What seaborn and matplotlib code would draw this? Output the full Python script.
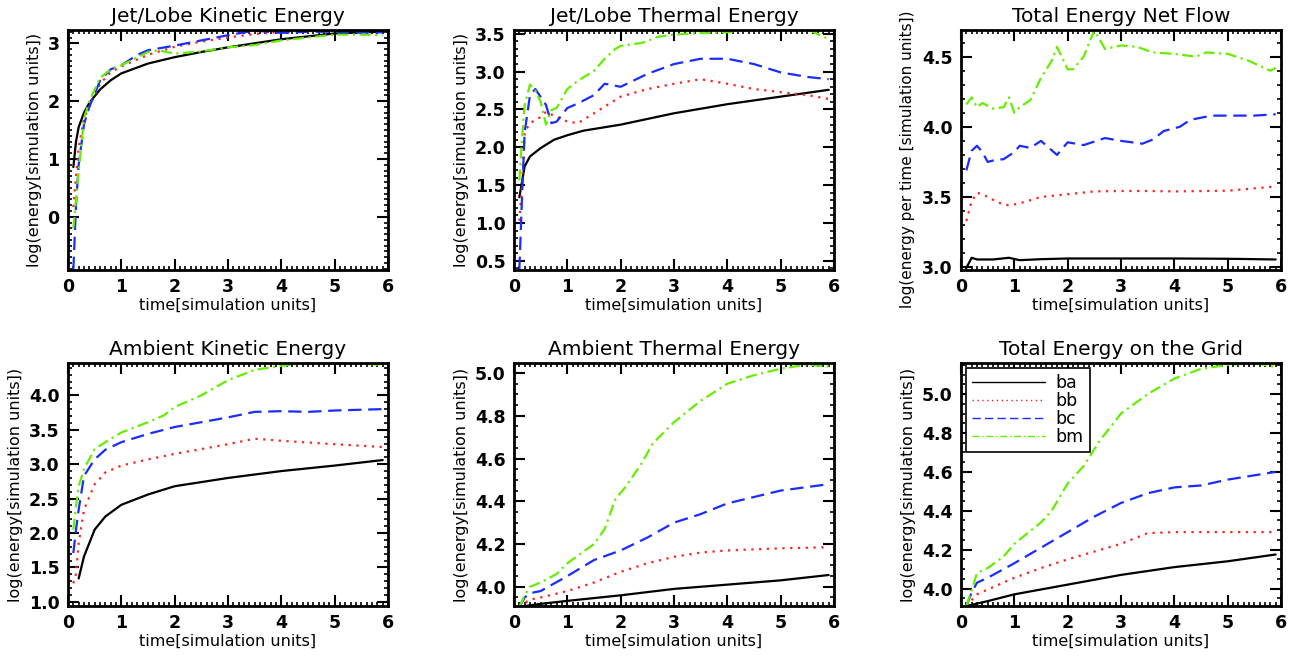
import numpy as np
import pandas as pd
import matplotlib
matplotlib.use("Agg")
from matplotlib import pyplot as plt
from matplotlib.ticker import MultipleLocator, FormatStrFormatter
import seaborn as sns

runs = ['ba', 'bb', 'bc', 'bm']
colors = {'ba': 'black', 'bb': '#ff2020', 'bc': '#1a2cff', 'bm': '#66ee00'}
dashes = {'ba': '', 'bb': (1, 2.5), 'bc': (6, 3), 'bm': (5, 2, 1, 2)}

# Jet/Lobe Kinetic Energy
jke_t_ba = [0.1, 0.15, 0.2, 0.3, 0.4, 0.6, 0.8, 1.0, 1.5, 2.0, 2.5, 3.0, 3.5, 4.0, 4.5, 5.0, 5.5, 5.9]
jke_ba = [0.86, 1.3, 1.55, 1.8, 1.97, 2.2, 2.36, 2.48, 2.65, 2.76, 2.85, 2.93, 3.0, 3.07, 3.12, 3.17, 3.19, 3.2]
jke_t_bb = [0.1, 0.15, 0.2, 0.3, 0.4, 0.6, 0.8, 1.0, 1.5, 2.0, 2.5, 3.0, 3.5, 4.0, 4.5, 5.0, 5.5, 5.9]
jke_bb = [0.17, 0.7, 1.2, 1.7, 1.9, 2.3, 2.5, 2.6, 2.8, 2.94, 3.03, 3.1, 3.16, 3.2, 3.21, 3.22, 3.22, 3.22]
jke_t_bc = [0.1, 0.15, 0.2, 0.3, 0.4, 0.6, 0.8, 1.0, 1.3, 1.5, 2.0, 2.5, 3.0, 3.5, 4.0, 4.5, 5.0, 5.5, 5.9]
jke_bc = [-0.92, 0.2, 0.9, 1.6, 1.9, 2.35, 2.55, 2.62, 2.8, 2.88, 2.96, 3.05, 3.14, 3.22, 3.18, 3.2, 3.2, 3.19, 3.19]
jke_t_bm = [0.1, 0.15, 0.2, 0.3, 0.4, 0.6, 0.8, 1.0, 1.5, 1.7, 2.0, 2.5, 3.0, 3.5, 4.0, 4.5, 5.0, 5.5, 5.9]
jke_bm = [-0.2, 0.3, 0.8, 1.7, 2.0, 2.4, 2.55, 2.62, 2.85, 2.88, 2.82, 2.86, 2.93, 2.97, 3.05, 3.1, 3.15, 3.15, 3.14]

# Jet/Lobe Thermal Energy
jte_t_ba = [0.1, 0.2, 0.3, 0.5, 0.75, 1.0, 1.3, 2.0, 3.0, 4.0, 5.0, 5.9]
jte_ba = [1.34, 1.75, 1.88, 1.99, 2.1, 2.16, 2.22, 2.3, 2.45, 2.57, 2.67, 2.76]
jte_t_bb = [0.1, 0.15, 0.2, 0.3, 0.5, 0.6, 0.8, 1.0, 1.2, 1.5, 2.0, 2.5, 3.0, 3.5, 4.0, 4.5, 5.0, 5.5, 5.9]
jte_bb = [1.03, 1.5, 2.2, 2.32, 2.4, 2.47, 2.4, 2.34, 2.32, 2.45, 2.67, 2.77, 2.84, 2.9, 2.84, 2.77, 2.73, 2.69, 2.64]
jte_t_bc = [0.1, 0.15, 0.2, 0.3, 0.4, 0.6, 0.7, 0.8, 1.0, 1.2, 1.5, 1.7, 2.0, 2.5, 3.0, 3.5, 4.0, 4.5, 5.0, 5.5, 5.9]
jte_bc = [0.38, 1.34, 2.2, 2.69, 2.77, 2.56, 2.32, 2.34, 2.52, 2.58, 2.69, 2.84, 2.8, 2.97, 3.1, 3.17, 3.17, 3.1, 2.99, 2.93, 2.9]
jte_t_bm = [0.1, 0.15, 0.2, 0.3, 0.4, 0.5, 0.6, 0.7, 0.8, 1.0, 1.2, 1.5, 1.7, 1.9, 2.0, 2.4, 2.7, 3.0, 3.5, 4.0, 4.5, 5.0, 5.5, 5.9]
jte_bm = [1.56, 2.12, 2.56, 2.83, 2.75, 2.6, 2.3, 2.49, 2.52, 2.77, 2.88, 3.01, 3.17, 3.3, 3.34, 3.38, 3.46, 3.49, 3.51, 3.52, 3.56, 3.55, 3.56, 3.43]

# Total Energy Net Flow
tnf_t_ba = [0.1, 0.2, 0.3, 0.6, 0.9, 1.1, 1.5, 2.0, 3.0, 4.0, 5.0, 5.9]
tnf_ba = [2.995, 3.067, 3.055, 3.055, 3.067, 3.05, 3.057, 3.062, 3.062, 3.062, 3.06, 3.055]
tnf_t_bb = [0.1, 0.2, 0.3, 0.4, 0.5, 0.7, 0.9, 1.1, 1.5, 2.0, 2.5, 3.0, 3.5, 4.0, 5.0, 5.9]
tnf_bb = [3.33, 3.47, 3.53, 3.52, 3.5, 3.46, 3.44, 3.455, 3.5, 3.52, 3.54, 3.543, 3.543, 3.54, 3.545, 3.575]
tnf_t_bc = [0.1, 0.2, 0.3, 0.4, 0.5, 0.6, 0.8, 1.0, 1.1, 1.3, 1.5, 1.8, 2.0, 2.3, 2.7, 3.0, 3.2, 3.4, 3.6, 3.8, 4.1, 4.3, 4.7, 5.0, 5.5, 5.9]
tnf_bc = [3.69, 3.83, 3.865, 3.82, 3.75, 3.76, 3.77, 3.82, 3.865, 3.85, 3.9, 3.8, 3.89, 3.87, 3.92, 3.9, 3.89, 3.88, 3.91, 3.97, 4.0, 4.05, 4.08, 4.08, 4.08, 4.09]
tnf_t_bm = [0.1, 0.2, 0.3, 0.4, 0.6, 0.8, 0.9, 1.0, 1.1, 1.3, 1.5, 1.7, 1.8, 2.0, 2.1, 2.3, 2.5, 2.7, 3.0, 3.3, 3.6, 4.0, 4.4, 4.6, 5.0, 5.4, 5.8, 5.9]
tnf_bm = [4.16, 4.21, 4.14, 4.17, 4.13, 4.14, 4.21, 4.1, 4.14, 4.19, 4.35, 4.47, 4.57, 4.41, 4.41, 4.5, 4.69, 4.555, 4.58, 4.57, 4.53, 4.52, 4.5, 4.53, 4.52, 4.47, 4.4, 4.42]

# Ambient Kinetic Energy
ake_t_ba = [0.2, 0.3, 0.5, 0.7, 1.0, 1.5, 2.0, 3.0, 4.0, 5.0, 5.9]
ake_ba = [1.34, 1.66, 2.05, 2.24, 2.41, 2.56, 2.68, 2.8, 2.9, 2.98, 3.06]
ake_t_bb = [0.1, 0.15, 0.2, 0.3, 0.5, 0.7, 1.0, 1.5, 2.0, 3.0, 3.5, 4.0, 5.0, 5.9]
ake_bb = [1.27, 1.41, 1.85, 2.34, 2.71, 2.88, 2.98, 3.07, 3.15, 3.29, 3.37, 3.34, 3.29, 3.25]
ake_t_bc = [0.1, 0.15, 0.2, 0.3, 0.5, 0.7, 1.0, 1.5, 2.0, 3.0, 3.5, 4.0, 4.5, 5.0, 5.9]
ake_bc = [1.71, 2.05, 2.34, 2.83, 3.07, 3.21, 3.32, 3.44, 3.54, 3.68, 3.76, 3.77, 3.76, 3.78, 3.8]
ake_t_bm = [0.1, 0.15, 0.2, 0.3, 0.5, 0.7, 1.0, 1.5, 1.8, 2.0, 2.5, 3.0, 3.5, 4.0, 4.5, 5.0, 5.9]
ake_bm = [2.05, 2.39, 2.68, 2.93, 3.22, 3.32, 3.46, 3.61, 3.71, 3.83, 4.0, 4.22, 4.37, 4.43, 4.47, 4.49, 4.44]

# Ambient Thermal Energy
ate_t_ba = [0.1, 0.5, 1.0, 2.0, 3.0, 4.0, 5.0, 5.9]
ate_ba = [3.906, 3.92, 3.934, 3.96, 3.99, 4.01, 4.03, 4.055]
ate_t_bb = [0.1, 0.3, 0.5, 1.0, 1.5, 2.0, 2.5, 3.0, 3.5, 4.0, 5.0, 5.9]
ate_bb = [3.906, 3.94, 3.95, 3.98, 4.02, 4.07, 4.11, 4.14, 4.16, 4.17, 4.18, 4.185]
ate_t_bc = [0.1, 0.2, 0.3, 0.5, 1.0, 1.5, 2.0, 2.5, 3.0, 3.5, 4.0, 4.5, 5.0, 5.9]
ate_bc = [3.906, 3.95, 3.97, 3.98, 4.05, 4.125, 4.17, 4.23, 4.3, 4.34, 4.39, 4.42, 4.45, 4.48]
ate_t_bm = [0.1, 0.2, 0.3, 0.5, 0.8, 1.0, 1.5, 1.7, 1.9, 2.1, 2.4, 2.6, 3.0, 3.5, 4.0, 4.5, 5.0, 5.5, 5.9]
ate_bm = [3.906, 3.96, 4.0, 4.02, 4.06, 4.11, 4.2, 4.27, 4.41, 4.47, 4.58, 4.67, 4.77, 4.87, 4.95, 4.99, 5.02, 5.04, 5.03]

# Total Energy on the Grid
teg_t_ba = [0.1, 0.5, 1.0, 2.0, 3.0, 4.0, 5.0, 5.9]
teg_ba = [3.91, 3.935, 3.97, 4.02, 4.07, 4.11, 4.14, 4.175]
teg_t_bb = [0.1, 0.3, 0.5, 1.0, 1.5, 2.0, 2.5, 3.0, 3.5, 4.0, 5.0, 5.9]
teg_bb = [3.91, 3.97, 3.995, 4.055, 4.105, 4.15, 4.19, 4.23, 4.285, 4.29, 4.29, 4.29]
teg_t_bc = [0.1, 0.2, 0.3, 0.5, 1.0, 1.5, 2.0, 2.5, 3.0, 3.5, 4.0, 4.5, 5.0, 5.9]
teg_bc = [3.91, 3.98, 4.03, 4.055, 4.13, 4.21, 4.29, 4.37, 4.44, 4.49, 4.52, 4.53, 4.56, 4.6]
teg_t_bm = [0.1, 0.2, 0.3, 0.5, 0.8, 1.0, 1.5, 1.7, 2.0, 2.3, 2.6, 3.0, 3.5, 4.0, 4.5, 5.0, 5.5, 5.9]
teg_bm = [3.91, 3.99, 4.08, 4.105, 4.165, 4.23, 4.34, 4.4, 4.54, 4.63, 4.76, 4.9, 5.0, 5.08, 5.13, 5.15, 5.16, 5.14]

panels = [
    ('Jet/Lobe Kinetic Energy', 'log(energy[simulation units])',
     [(jke_t_ba, jke_ba), (jke_t_bb, jke_bb), (jke_t_bc, jke_bc), (jke_t_bm, jke_bm)],
     (-0.92, 3.23), 1.0, 0.1),
    ('Jet/Lobe Thermal Energy', 'log(energy[simulation units])',
     [(jte_t_ba, jte_ba), (jte_t_bb, jte_bb), (jte_t_bc, jte_bc), (jte_t_bm, jte_bm)],
     (0.38, 3.55), 0.5, 0.1),
    ('Total Energy Net Flow', 'log(energy per time [simulation units])',
     [(tnf_t_ba, tnf_ba), (tnf_t_bb, tnf_bb), (tnf_t_bc, tnf_bc), (tnf_t_bm, tnf_bm)],
     (2.98, 4.69), 0.5, 0.1),
    ('Ambient Kinetic Energy', 'log(energy[simulation units])',
     [(ake_t_ba, ake_ba), (ake_t_bb, ake_bb), (ake_t_bc, ake_bc), (ake_t_bm, ake_bm)],
     (0.94, 4.47), 0.5, 0.1),
    ('Ambient Thermal Energy', 'log(energy[simulation units])',
     [(ate_t_ba, ate_ba), (ate_t_bb, ate_bb), (ate_t_bc, ate_bc), (ate_t_bm, ate_bm)],
     (3.91, 5.047), 0.2, 0.05),
    ('Total Energy on the Grid', 'log(energy[simulation units])',
     [(teg_t_ba, teg_ba), (teg_t_bb, teg_bb), (teg_t_bc, teg_bc), (teg_t_bm, teg_bm)],
     (3.91, 5.16), 0.2, 0.05),
]

sns.set_style('white')
plt.rcParams['font.family'] = ['DejaVu Sans']
plt.rcParams['text.color'] = 'black'
plt.rcParams['axes.labelcolor'] = 'black'
plt.rcParams['xtick.color'] = 'black'
plt.rcParams['ytick.color'] = 'black'

W, H = 1301, 659
fig = plt.figure(figsize=(W / 100, H / 100), dpi=100)

lefts = [68, 514, 961]
tops = [30, 363]
heights = [240, 243]

for i, (title, ylabel, series, ylim, ymaj, ymin) in enumerate(panels):
    row, col = divmod(i, 3)
    l, t, h = lefts[col], tops[row], heights[row]
    ax = fig.add_axes([l / W, 1 - (t + h) / H, 320 / W, h / H])
    frames = []
    for run, (tt, yy) in zip(runs, series):
        frames.append(pd.DataFrame({'time': tt, 'value': yy, 'run': run}))
    df = pd.concat(frames)
    sns.lineplot(data=df, x='time', y='value', hue='run', style='run',
                 palette=colors, dashes=dashes, linewidth=1.6, ax=ax,
                 legend=(i == 5), estimator=None, sort=False)
    ax.set_xlim(0, 6)
    ax.set_ylim(*ylim)
    ax.xaxis.set_major_locator(MultipleLocator(1))
    ax.xaxis.set_minor_locator(MultipleLocator(0.1))
    ax.yaxis.set_major_locator(MultipleLocator(ymaj))
    ax.yaxis.set_minor_locator(MultipleLocator(ymin))
    ax.yaxis.set_major_formatter(FormatStrFormatter('%.1f' if ymaj < 1 else '%d'))
    ax.tick_params(which='both', direction='in', top=True, right=True,
                   bottom=True, left=True, color='black')
    ax.tick_params(which='major', length=8, width=1.5, labelsize=12.5, pad=6)
    ax.tick_params(which='minor', length=3, width=1.2)
    for lab in ax.get_xticklabels() + ax.get_yticklabels():
        lab.set_fontweight('bold')
    for sp in ax.spines.values():
        sp.set_visible(True)
        sp.set_color('black')
        sp.set_linewidth(2)
    ax.set_title(title, fontsize=14.5, pad=6)
    ax.set_xlabel('time[simulation units]', fontsize=11.5, labelpad=1)
    ax.set_ylabel(ylabel, fontsize=11 if i == 2 else 11.5, labelpad=4)
    if i == 2:
        ax.yaxis.set_label_coords(-0.145, 0.46)
    if i == 5:
        leg = ax.legend(loc='upper left', fontsize=12.5, handlelength=4.2,
                        frameon=True, fancybox=False, borderaxespad=0.3,
                        borderpad=0.35, labelspacing=0.0, handletextpad=0.6)
        leg.get_frame().set_edgecolor('black')
        leg.get_frame().set_linewidth(1.2)
        leg.get_frame().set_alpha(1)
        for line in leg.get_lines():
            line.set_linewidth(1.0)

fig.savefig('out.png', dpi=100)
